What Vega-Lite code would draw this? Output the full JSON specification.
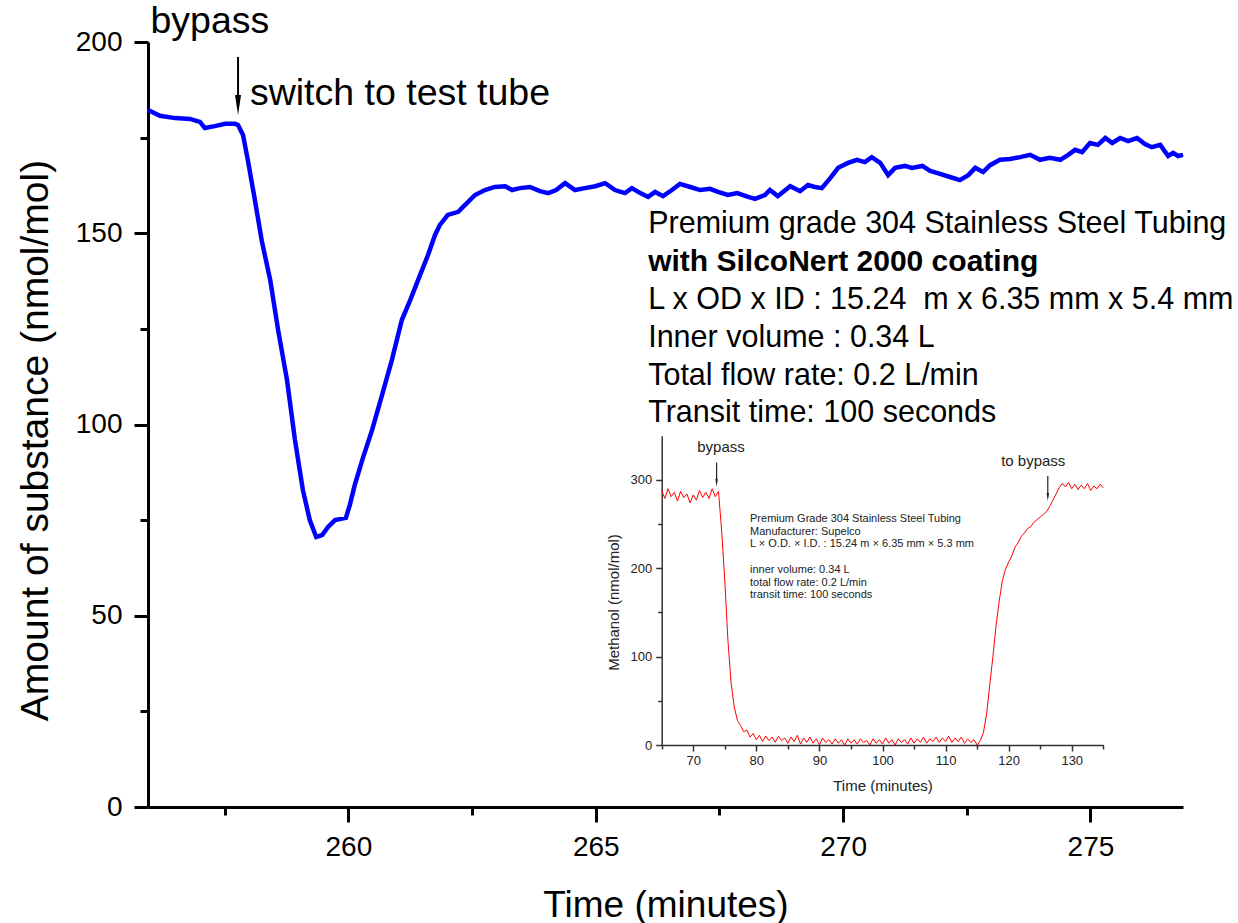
{
  "$schema": "https://vega.github.io/schema/vega-lite/v6.json",
  "width": 1035,
  "height": 765,
  "autosize": {"type": "none"},
  "padding": {"left": 148, "top": 42, "right": 55, "bottom": 116},
  "background": "white",
  "config": {"view": {"stroke": null}, "font": "Liberation Sans", "axis": {"grid": false, "labelFont": "Liberation Sans", "titleFont": "Liberation Sans", "titleFontWeight": "normal", "labelFlush": false, "labelOverlap": false}},
  "resolve": {"scale": {"x": "independent", "y": "independent"}, "axis": {"x": "independent", "y": "independent"}},
  "layer": [
    {
      "encoding": {
        "x": {"field": "t", "type": "quantitative",
          "scale": {"domain": [255.95, 276.87], "nice": false, "zero": false},
          "axis": {"title": "Time (minutes)", "orient": "bottom", "values": [260, 265, 270, 275], "format": "d",
            "ticks": true, "tickSize": 15,
            "domainColor": "black", "domainWidth": 3, "tickColor": "black", "tickWidth": 3,
            "labelFontSize": 28, "labelColor": "black", "labelPadding": 11,
            "titleFontSize": 37, "titleColor": "black", "titleY": 98, "titleBaseline": "middle"}},
        "y": {"field": "v", "type": "quantitative",
          "scale": {"domain": [0, 200], "nice": false, "zero": false},
          "axis": {"title": "Amount of substance (nmol/mol)", "orient": "left", "values": [0, 50, 100, 150, 200],
            "ticks": true, "tickSize": 14,
            "domainColor": "black", "domainWidth": 3, "tickColor": "black", "tickWidth": 3,
            "labelFontSize": 28, "labelColor": "black", "labelPadding": 12,
            "titleFontSize": 39, "titleColor": "black", "titleX": -113, "titleY": 398, "titleBaseline": "middle"}}
      },
      "layer": [
        {
          "data": {"values": [
            {"t":255.95,"v":182.2},{"t":256.19,"v":180.7},{"t":256.5,"v":180.1},{"t":256.8,"v":179.9},{"t":257.0,"v":179.1},{"t":257.1,"v":177.5},{"t":257.3,"v":178.0},{"t":257.51,"v":178.6},{"t":257.71,"v":178.6},{"t":257.77,"v":178.3},{"t":257.87,"v":175.7},{"t":257.97,"v":169.0},{"t":258.11,"v":158.7},{"t":258.25,"v":148.0},{"t":258.42,"v":137.8},{"t":258.58,"v":124.7},{"t":258.76,"v":111.6},{"t":258.92,"v":96.0},{"t":259.08,"v":82.9},{"t":259.22,"v":75.0},{"t":259.35,"v":70.6},{"t":259.47,"v":71.1},{"t":259.59,"v":73.2},{"t":259.73,"v":75.0},{"t":259.95,"v":75.6},{"t":260.03,"v":79.0},{"t":260.13,"v":84.2},{"t":260.28,"v":90.7},{"t":260.48,"v":98.6},{"t":260.68,"v":107.7},{"t":260.88,"v":116.9},{"t":261.08,"v":127.3},{"t":261.25,"v":132.5},{"t":261.41,"v":137.8},{"t":261.61,"v":144.3},{"t":261.75,"v":149.5},{"t":261.85,"v":152.2},{"t":262.01,"v":154.8},{"t":262.22,"v":155.6},{"t":262.36,"v":157.4},{"t":262.56,"v":160.0},{"t":262.76,"v":161.3},{"t":262.96,"v":162.1},{"t":263.17,"v":162.3},{"t":263.31,"v":161.3},{"t":263.47,"v":161.8},{"t":263.67,"v":162.1},{"t":263.87,"v":161.0},{"t":264.04,"v":160.5},{"t":264.2,"v":161.3},{"t":264.38,"v":163.1},{"t":264.58,"v":161.3},{"t":264.78,"v":161.8},{"t":264.99,"v":162.3},{"t":265.19,"v":163.1},{"t":265.39,"v":161.3},{"t":265.59,"v":160.5},{"t":265.73,"v":161.8},{"t":265.9,"v":160.5},{"t":266.06,"v":159.5},{"t":266.2,"v":160.8},{"t":266.36,"v":159.7},{"t":266.54,"v":161.3},{"t":266.7,"v":162.9},{"t":266.91,"v":162.1},{"t":267.11,"v":161.3},{"t":267.31,"v":161.6},{"t":267.47,"v":160.8},{"t":267.67,"v":160.0},{"t":267.86,"v":160.5},{"t":268.08,"v":159.5},{"t":268.22,"v":159.0},{"t":268.42,"v":160.0},{"t":268.52,"v":161.3},{"t":268.68,"v":159.7},{"t":268.93,"v":162.3},{"t":269.13,"v":161.0},{"t":269.29,"v":162.6},{"t":269.43,"v":162.1},{"t":269.57,"v":161.8},{"t":269.74,"v":164.4},{"t":269.9,"v":167.1},{"t":270.1,"v":168.4},{"t":270.28,"v":169.2},{"t":270.44,"v":168.6},{"t":270.58,"v":169.9},{"t":270.75,"v":168.4},{"t":270.91,"v":165.2},{"t":271.05,"v":167.1},{"t":271.25,"v":167.6},{"t":271.39,"v":167.1},{"t":271.6,"v":167.6},{"t":271.76,"v":166.3},{"t":271.96,"v":165.5},{"t":272.16,"v":164.7},{"t":272.36,"v":163.9},{"t":272.53,"v":165.2},{"t":272.67,"v":167.1},{"t":272.83,"v":166.0},{"t":272.97,"v":167.8},{"t":273.17,"v":169.2},{"t":273.37,"v":169.4},{"t":273.58,"v":169.9},{"t":273.78,"v":170.5},{"t":273.98,"v":169.2},{"t":274.18,"v":169.7},{"t":274.39,"v":169.2},{"t":274.55,"v":170.5},{"t":274.69,"v":171.8},{"t":274.83,"v":171.2},{"t":274.99,"v":173.6},{"t":275.15,"v":173.1},{"t":275.3,"v":174.9},{"t":275.44,"v":173.6},{"t":275.6,"v":174.9},{"t":275.76,"v":174.1},{"t":275.94,"v":174.9},{"t":276.1,"v":173.3},{"t":276.24,"v":172.5},{"t":276.41,"v":173.1},{"t":276.57,"v":170.2},{"t":276.67,"v":171.0},{"t":276.77,"v":170.2},{"t":276.87,"v":170.5}
          ]},
          "mark": {"type": "line", "color": "#0000ff", "strokeWidth": 4.5}
        },
        {
          "data": {"values": [
            {"t": 266.06, "v": 150.07, "label": "Premium grade 304 Stainless Steel Tubing"},
            {"t": 266.06, "v": 130.2, "label": "L x OD x ID : 15.24\u00a0 m x 6.35 mm x 5.4 mm"},
            {"t": 266.06, "v": 120.26, "label": "Inner volume : 0.34 L"},
            {"t": 266.06, "v": 110.33, "label": "Total flow rate: 0.2 L/min"},
            {"t": 266.06, "v": 100.65, "label": "Transit time: 100 seconds"}
          ]},
          "mark": {"type": "text", "align": "left", "baseline": "alphabetic", "fontSize": 30.5, "color": "black"},
          "encoding": {"text": {"field": "label"}}
        },
        {
          "data": {"values": [{"t": 266.06, "v": 140.13, "label": "with SilcoNert 2000 coating"}]},
          "mark": {"type": "text", "align": "left", "baseline": "alphabetic", "fontSize": 30, "fontWeight": "bold", "color": "black"},
          "encoding": {"text": {"field": "label"}}
        },
        {
          "data": {"values": [
            {"t": 256.0, "v": 202.4, "label": "bypass"},
            {"t": 258.01, "v": 183.5, "label": "switch to test tube"}
          ]},
          "mark": {"type": "text", "align": "left", "baseline": "alphabetic", "fontSize": 37.5, "color": "black"},
          "encoding": {"text": {"field": "label"}}
        },
        {
          "data": {"values": [{"t": 257.77, "v": 196.1, "v2": 186}]},
          "mark": {"type": "rule", "color": "black", "strokeWidth": 2},
          "encoding": {"y2": {"field": "v2"}}
        },
        {
          "data": {"values": [{"t": 257.77, "v": 183.5}]},
          "mark": {"type": "point", "shape": "M-0.3,-1L0.3,-1L0,1Z", "size": 400, "filled": true, "color": "black", "opacity": 1}
        }
      ]
    },
    {
      "data": {"values": [{"t": 260, "v": 100}]},
      "mark": {"type": "point", "opacity": 0},
      "encoding": {
        "x": {"field": "t", "type": "quantitative",
          "scale": {"domain": [255.95, 276.87], "nice": false, "zero": false},
          "axis": {"title": null, "orient": "bottom", "values": [257.5, 262.5, 267.5, 272.5], "labels": false, "domain": false,
            "tickSize": 8, "tickColor": "black", "tickWidth": 3}},
        "y": {"field": "v", "type": "quantitative",
          "scale": {"domain": [0, 200], "nice": false, "zero": false},
          "axis": {"title": null, "orient": "left", "values": [25, 75, 125, 175], "labels": false, "domain": false,
            "tickSize": 8, "tickColor": "black", "tickWidth": 3}}
      }
    },
    {
      "encoding": {
        "x": {"field": "t", "type": "quantitative",
          "scale": {"domain": [65, 135], "range": [513.7, 955.3], "nice": false, "zero": false},
          "axis": {"title": "Time (minutes)", "orient": "bottom", "offset": -62,
            "values": [70, 80, 90, 100, 110, 120, 130], "format": "d",
            "tickSize": 6,
            "domainColor": "#333333", "domainWidth": 1.5, "tickColor": "#333333", "tickWidth": 1.5,
            "labelFontSize": 13, "labelColor": "#222222", "labelPadding": 3,
            "titleFontSize": 15, "titleColor": "#222222", "titleY": 40, "titleBaseline": "middle"}},
        "y": {"field": "v", "type": "quantitative",
          "scale": {"domain": [0, 350], "range": [703, 393.7], "nice": false, "zero": false},
          "axis": {"title": "Methanol (nmol/mol)", "orient": "left", "offset": -513.7,
            "values": [0, 100, 200, 300],
            "tickSize": 6,
            "domainColor": "#333333", "domainWidth": 1.5, "tickColor": "#333333", "tickWidth": 1.5,
            "labelFontSize": 13, "labelColor": "#222222", "labelPadding": 4,
            "titleFontSize": 15, "titleColor": "#222222", "titleX": -48.7, "titleY": 560, "titleBaseline": "middle"}}
      },
      "layer": [
        {
          "data": {"values": [
            {"t":65,"v":288},{"t":65.5,"v":279},{"t":66,"v":290},{"t":66.5,"v":281},{"t":67,"v":286},{"t":67.5,"v":276},{"t":68,"v":287},{"t":68.5,"v":280},{"t":69,"v":284},{"t":69.5,"v":274},{"t":70,"v":283},{"t":70.5,"v":277},{"t":71,"v":288},{"t":71.5,"v":280},{"t":72,"v":286},{"t":72.5,"v":279},{"t":73,"v":290},{"t":73.5,"v":281},{"t":74,"v":287},{"t":74.5,"v":243},{"t":75,"v":186},{"t":75.5,"v":118},{"t":76,"v":70},{"t":76.5,"v":43},{"t":77,"v":28},{"t":77.5,"v":22},{"t":78,"v":15},{"t":78.5,"v":17},{"t":79,"v":9},{"t":79.5,"v":13},{"t":80,"v":6},{"t":80.5,"v":11},{"t":81,"v":4},{"t":81.5,"v":10},{"t":82,"v":5},{"t":82.5,"v":9},{"t":83,"v":3},{"t":83.5,"v":10},{"t":84,"v":5},{"t":84.5,"v":8},{"t":85,"v":2},{"t":85.5,"v":9},{"t":86,"v":4},{"t":86.5,"v":11},{"t":87,"v":1},{"t":87.5,"v":8},{"t":88,"v":3},{"t":88.5,"v":9},{"t":89,"v":2},{"t":89.5,"v":7},{"t":90,"v":0},{"t":90.5,"v":8},{"t":91,"v":3},{"t":91.5,"v":6},{"t":92,"v":1},{"t":92.5,"v":7},{"t":93,"v":2},{"t":93.5,"v":6},{"t":94,"v":0},{"t":94.5,"v":7},{"t":95,"v":2},{"t":95.5,"v":6},{"t":96,"v":1},{"t":96.5,"v":7},{"t":97,"v":3},{"t":97.5,"v":5},{"t":98,"v":0},{"t":98.5,"v":7},{"t":99,"v":2},{"t":99.5,"v":6},{"t":100,"v":1},{"t":100.5,"v":8},{"t":101,"v":2},{"t":101.5,"v":6},{"t":102,"v":0},{"t":102.5,"v":7},{"t":103,"v":3},{"t":103.5,"v":6},{"t":104,"v":1},{"t":104.5,"v":8},{"t":105,"v":2},{"t":105.5,"v":7},{"t":106,"v":3},{"t":106.5,"v":9},{"t":107,"v":2},{"t":107.5,"v":7},{"t":108,"v":4},{"t":108.5,"v":9},{"t":109,"v":3},{"t":109.5,"v":8},{"t":110,"v":4},{"t":110.5,"v":10},{"t":111,"v":3},{"t":111.5,"v":8},{"t":112,"v":4},{"t":112.5,"v":9},{"t":113,"v":2},{"t":113.5,"v":7},{"t":114,"v":3},{"t":114.5,"v":6},{"t":115,"v":0},{"t":115.5,"v":5},{"t":116,"v":14},{"t":116.5,"v":35},{"t":117,"v":68},{"t":117.5,"v":100},{"t":118,"v":135},{"t":118.5,"v":163},{"t":119,"v":186},{"t":119.5,"v":199},{"t":120,"v":207},{"t":120.5,"v":214},{"t":121,"v":224},{"t":121.5,"v":229},{"t":122,"v":236},{"t":122.5,"v":240},{"t":123,"v":245},{"t":123.5,"v":247},{"t":124,"v":252},{"t":124.5,"v":255},{"t":125,"v":258},{"t":125.5,"v":261},{"t":126,"v":264},{"t":126.5,"v":270},{"t":127,"v":277},{"t":127.5,"v":284},{"t":128,"v":291},{"t":128.5,"v":296},{"t":129,"v":292},{"t":129.5,"v":297},{"t":130,"v":290},{"t":130.5,"v":295},{"t":131,"v":289},{"t":131.5,"v":294},{"t":132,"v":290},{"t":132.5,"v":296},{"t":133,"v":288},{"t":133.5,"v":293},{"t":134,"v":290},{"t":134.5,"v":295},{"t":135,"v":291}
          ]},
          "mark": {"type": "line", "color": "#ff0000", "strokeWidth": 1}
        },
        {
          "data": {"values": [
            {"t": 79.0, "v": 252.1, "label": "Premium Grade 304 Stainless Steel Tubing"},
            {"t": 79.0, "v": 238.1, "label": "Manufacturer: Supelco"},
            {"t": 79.0, "v": 223.8, "label": "L × O.D. × I.D. : 15.24 m × 6.35 mm × 5.3 mm"},
            {"t": 79.0, "v": 195.0, "label": "inner volume: 0.34 L"},
            {"t": 79.0, "v": 180.3, "label": "total flow rate: 0.2 L/min"},
            {"t": 79.0, "v": 166.0, "label": "transit time: 100 seconds"}
          ]},
          "mark": {"type": "text", "align": "left", "baseline": "alphabetic", "fontSize": 11, "color": "#222222"},
          "encoding": {"text": {"field": "label"}}
        },
        {
          "data": {"values": [
            {"t": 74.4, "v": 331.7, "label": "bypass"},
            {"t": 123.9, "v": 315.8, "label": "to bypass"}
          ]},
          "mark": {"type": "text", "align": "center", "baseline": "alphabetic", "fontSize": 15, "color": "#222222"},
          "encoding": {"text": {"field": "label"}}
        },
        {
          "data": {"values": [{"t": 73.7, "v": 319.6, "v2": 297}, {"t": 126.2, "v": 304.5, "v2": 281}]},
          "mark": {"type": "rule", "color": "#222222", "strokeWidth": 1.2},
          "encoding": {"y2": {"field": "v2"}}
        },
        {
          "data": {"values": [{"t": 73.7, "v": 296.9}, {"t": 126.2, "v": 280.7}]},
          "mark": {"type": "point", "shape": "M-0.3,-1L0.3,-1L0,1Z", "size": 64, "filled": true, "color": "#222222", "opacity": 1}
        }
      ]
    },
    {
      "data": {"values": [{"t": 100, "v": 100}]},
      "mark": {"type": "point", "opacity": 0},
      "encoding": {
        "x": {"field": "t", "type": "quantitative",
          "scale": {"domain": [65, 135], "range": [513.7, 955.3], "nice": false, "zero": false},
          "axis": {"title": null, "orient": "bottom", "offset": -62, "values": [65, 75, 85, 95, 105, 115, 125, 135], "labels": false, "domain": false,
            "tickSize": 4, "tickColor": "#333333", "tickWidth": 1.5}},
        "y": {"field": "v", "type": "quantitative",
          "scale": {"domain": [0, 350], "range": [703, 393.7], "nice": false, "zero": false},
          "axis": {"title": null, "orient": "left", "offset": -513.7, "values": [50, 150, 250], "labels": false, "domain": false,
            "tickSize": 4, "tickColor": "#333333", "tickWidth": 1.5}}
      }
    }
  ]
}
